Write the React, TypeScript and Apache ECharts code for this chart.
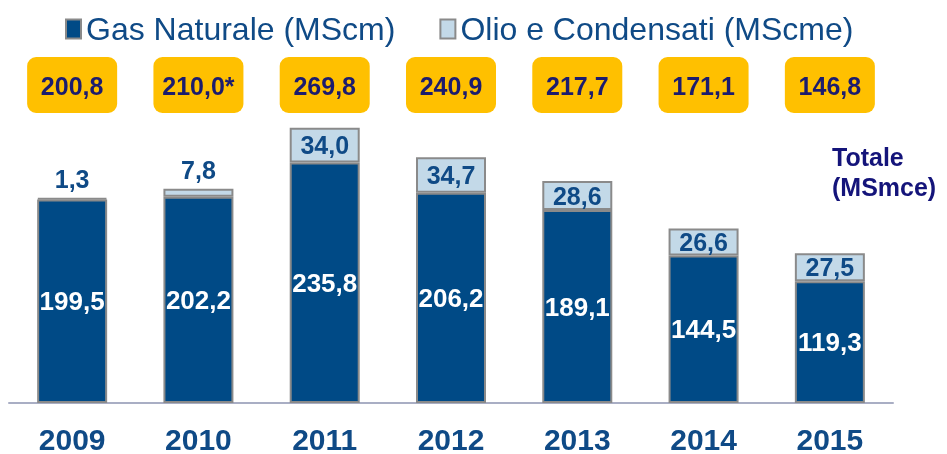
import React, { useEffect, useRef } from "react";
import * as echarts from "echarts";

const years = ["2009", "2010", "2011", "2012", "2013", "2014", "2015"];
const gas = [199.5, 202.2, 235.8, 206.2, 189.1, 144.5, 119.3];
const oil = [1.3, 7.8, 34.0, 34.7, 28.6, 26.6, 27.5];
const totals = [200.8, 210.0, 269.8, 240.9, 217.7, 171.1, 146.8];
const totalNotes = ["", "*", "", "", "", "", ""];
const oilLabelAbove = [true, true, false, false, false, false, false];

const fmt = (v: number) => v.toFixed(1).replace(".", ",");
const FONT = "'Liberation Sans', Arial, sans-serif";
const NAVY = "#0f4a86";

export default function App() {
  const ref = useRef<HTMLDivElement>(null);
  useEffect(() => {
    const chart = echarts.init(ref.current!, null, { renderer: "svg" });
    chart.setOption({
      animation: false,
      textStyle: { fontFamily: FONT },
      legend: {
        left: 60,
        top: 8,
        icon: "rect",
        itemWidth: 15,
        itemHeight: 19,
        itemGap: 44,
        textStyle: { fontSize: 32, color: NAVY, fontFamily: FONT },
        data: ["Gas Naturale (MScm)", "Olio e Condensati (MScme)"],
      },
      grid: { left: 9, right: 54, top: 97, bottom: 50 },
      xAxis: {
        type: "category",
        data: years,
        axisTick: { show: false },
        axisLine: { lineStyle: { color: "#a9aec4", width: 2 } },
        axisLabel: {
          fontSize: 30,
          fontWeight: "bold",
          color: NAVY,
          margin: 21,
          fontFamily: FONT,
        },
      },
      yAxis: { type: "value", min: 0, max: 300, show: false, splitLine: { show: false } },
      series: [
        {
          name: "Gas Naturale (MScm)",
          type: "bar",
          stack: "tot",
          barWidth: 70,
          data: gas,
          itemStyle: { color: "#004a86", borderColor: "#8a8a8a", borderWidth: 2 },
          label: {
            show: true,
            position: "inside",
            color: "#ffffff",
            fontSize: 26,
            fontWeight: "bold",
            fontFamily: FONT,
            formatter: (p: any) => fmt(p.value),
          },
        },
        {
          name: "Olio e Condensati (MScme)",
          type: "bar",
          stack: "tot",
          barWidth: 70,
          data: oil.map((v, i) =>
            oilLabelAbove[i] ? { value: v, label: { position: "top", distance: 6 } } : v
          ),
          itemStyle: { color: "#c3d9e8", borderColor: "#8a8a8a", borderWidth: 2 },
          label: {
            show: true,
            position: "inside",
            color: NAVY,
            fontSize: 25,
            fontWeight: "bold",
            fontFamily: FONT,
            formatter: (p: any) => fmt(p.value),
          },
        },
        {
          name: "totals",
          type: "custom",
          clip: false,
          silent: true,
          data: totals.map((v, i) => [i, v]),
          renderItem: (params: any, api: any) => {
            const i = api.value(0);
            const x = api.coord([i, 0])[0];
            return {
              type: "group",
              children: [
                {
                  type: "rect",
                  shape: { x: x - 45, y: 57, width: 90, height: 56, r: 9 },
                  style: { fill: "#ffc000" },
                },
                {
                  type: "text",
                  x: x,
                  y: 86,
                  style: {
                    text: fmt(totals[i]) + totalNotes[i],
                    fill: "#1c1c6e",
                    font: `bold 25px ${FONT}`,
                    align: "center",
                    verticalAlign: "middle",
                  },
                },
              ],
            };
          },
        },
      ],
      graphic: [
        {
          type: "text",
          left: 832,
          top: 142,
          style: {
            text: "Totale\n(MSmce)",
            fill: "#14147a",
            font: `bold 25px ${FONT}`,
            lineHeight: 30,
          },
        },
      ],
    });
    return () => chart.dispose();
  }, []);
  return (
    <div
      ref={ref}
      style={{ position: "fixed", left: 0, top: 0, width: 947, height: 454 }}
    />
  );
}
